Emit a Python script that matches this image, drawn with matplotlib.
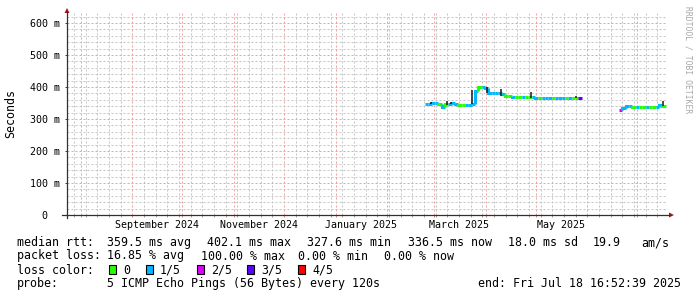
import matplotlib
matplotlib.use('Agg')
import matplotlib.pyplot as plt
import matplotlib.dates as mdates
import matplotlib.ticker as mticker
import matplotlib.transforms as mtransforms
from matplotlib.lines import Line2D
from matplotlib.patches import Polygon, Rectangle
from matplotlib.collections import LineCollection
import pandas as pd

# ---------------- data ----------------
time_start = '2024-07-23 16:52:39'
time_end = '2025-07-18 16:52:39'

y_tick_values = [0, 100, 200, 300, 400, 500, 600]
y_tick_labels = ['0  ', '100 m', '200 m', '300 m', '400 m', '500 m', '600 m']
x_label_dates = ['2024-09-16', '2024-11-16', '2025-01-16', '2025-03-16', '2025-05-16']
x_labels = ['September 2024', 'November 2024', 'January 2025', 'March 2025', 'May 2025']

step_days = 2
seg1_start = '2025-02-23 12:00'
seg1_median = [347, 346, 350, 349, 348, 338, 346, 348, 350, 346, 345, 345,
               345, 345, 346, 388, 399, 399, 398, 381, 380, 380, 380, 378,
               372, 371, 370, 370, 370, 370, 370, 370, 370, 366, 366, 366,
               366, 367, 366, 366, 366, 367, 366, 366, 366, 366, 367]
seg1_loss = [1, 1, 1, 1, 0, 1, 0, 1, 1, 1, 0, 0,
             1, 1, 1, 1, 0, 1, 1, 1, 1, 1, 1, 1,
             0, 0, 1, 0, 0, 1, 0, 0, 1, 1, 0, 1,
             1, 1, 0, 1, 1, 1, 0, 1, 0, 0, 3]

seg2_start = '2025-06-19 21:00'
seg2_median = [327, 333, 340, 339, 337, 336, 337, 336, 336, 336, 336, 336, 345, 339]
seg2_loss = [2, 1, 1, 1, 0, 1, 0, 0, 1, 0, 0, 1, 1, 0]

smoke_dates = ['2025-02-27 00:00', '2025-03-09 00:00', '2025-03-11 00:00', '2025-03-23 14:00',
               '2025-04-01 22:00', '2025-04-10 00:00', '2025-04-28 00:00',
               '2025-05-25 00:00', '2025-07-16 12:00']
smoke_low = [346, 345, 346, 346, 381, 372, 366, 365, 339]
smoke_high = [354, 355, 353, 390, 399, 394, 384, 373, 355]

loss_labels = ['0', '1/5', '2/5', '3/5', '4/5']
loss_colors = ['#26ff00', '#00b8ff', '#dd00ff', '#5e00ff', '#ff0000']

stats_rtt = ['median rtt:', '359.5 ms avg', '402.1 ms max', '327.6 ms min',
             '336.5 ms now', '18.0 ms sd', '19.9', 'am/s']
stats_loss = ['packet loss:', '16.85 % avg', '100.00 % max', '0.00 % min', '0.00 % now']
probe_text = ['probe:', '5 ICMP Echo Pings (56 Bytes) every 120s']
end_text = 'end: Fri Jul 18 16:52:39 2025'
y_axis_label = 'Seconds'
watermark = 'RRDTOOL / TOBI OETIKER'
loss_title = 'loss color:'

# ---------------- layout ----------------
W, H, DPI = 697, 297, 100
MONO = 'DejaVu Sans Mono'
AX_FS = 7.2
LG_FS = 8.4

def fx(px):
    return px / W

def fy(py):
    return 1 - py / H

fig = plt.figure(figsize=(W / DPI, H / DPI), dpi=DPI, facecolor='white')
plot_left, plot_right, plot_top, plot_bottom = 67, 667, 13, 215
ax = fig.add_axes([fx(plot_left), fy(plot_bottom),
                   (plot_right - plot_left) / W, (plot_bottom - plot_top) / H])
ax.set_facecolor('white')
for s in ax.spines.values():
    s.set_visible(False)

t0 = mdates.date2num(pd.Timestamp(time_start))
t1 = mdates.date2num(pd.Timestamp(time_end))
ax.set_xlim(t0, t1)
ax.set_ylim(0, 631)

# grid
ax.xaxis.set_major_locator(mdates.MonthLocator())
ax.xaxis.set_minor_locator(mdates.WeekdayLocator(byweekday=mdates.SU))
ax.xaxis.set_major_formatter(mticker.NullFormatter())
ax.xaxis.set_minor_formatter(mticker.NullFormatter())
ax.yaxis.set_minor_locator(mticker.MultipleLocator(20))
ax.set_yticks(y_tick_values)
ax.set_yticklabels(y_tick_labels, fontfamily=MONO, fontsize=AX_FS)
ax.set_axisbelow(True)
ax.grid(which='minor', color='#c4c4c4', linestyle=(0, (2, 2)), linewidth=0.72)
ax.grid(which='major', color='#eaa2a2', linestyle=(0, (2, 2)), linewidth=0.72)
ax.tick_params(axis='y', which='major', length=1.44, width=0.72, color='#404040', pad=3.6)
ax.tick_params(axis='y', which='minor', length=0)
ax.tick_params(axis='x', which='major', length=1.44, width=0.72, color='#c09090', direction='out')
ax.tick_params(axis='x', which='minor', length=1.44, width=0.72, color='#a0a0a0', direction='out')

# median line, colored by loss
def draw_segment(start, vals, loss):
    tstart = pd.Timestamp(start)
    segs, cols = [], []
    for i, (v, l) in enumerate(zip(vals, loss)):
        a = mdates.date2num(tstart + pd.Timedelta(days=step_days * i))
        b = mdates.date2num(tstart + pd.Timedelta(days=step_days * (i + 1)))
        prev = vals[i - 1] if i > 0 else v
        segs.append([(a, prev), (a, v), (b, v)])
        cols.append(loss_colors[l])
    lc = LineCollection(segs, colors=cols, linewidths=2.2, capstyle='butt', joinstyle='miter', zorder=3)
    ax.add_collection(lc)

draw_segment(seg1_start, seg1_median, seg1_loss)
draw_segment(seg2_start, seg2_median, seg2_loss)

smoke_x = [mdates.date2num(pd.Timestamp(d)) for d in smoke_dates]
ax.vlines(smoke_x, smoke_low, smoke_high, colors='#1a1a1a', linewidth=1.1, zorder=4)

# x labels
trans = mtransforms.blended_transform_factory(ax.transData, fig.transFigure)
for d, lab in zip(x_label_dates, x_labels):
    ax.text(mdates.date2num(pd.Timestamp(d)), fy(228), lab, transform=trans,
            ha='center', va='baseline', fontfamily=MONO, fontsize=AX_FS, color='black')

# axes lines with arrows
axis_col = '#303030'
arrow_col = '#a01818'
fig.add_artist(Line2D([fx(62), fx(670)], [fy(215), fy(215)], color=axis_col, lw=0.9))
fig.add_artist(Line2D([fx(67), fx(67)], [fy(218), fy(12)], color=axis_col, lw=0.9))
fig.add_artist(Polygon([[fx(669), fy(212.5)], [fx(674), fy(215)], [fx(669), fy(217.5)]],
                       closed=True, color=arrow_col, lw=0))
fig.add_artist(Polygon([[fx(64.5), fy(13)], [fx(67), fy(8)], [fx(69.5), fy(13)]],
                       closed=True, color=arrow_col, lw=0))

# y label and watermark
fig.text(fx(11), fy(114), y_axis_label, rotation=90, ha='center', va='center',
         fontfamily=MONO, fontsize=LG_FS)
fig.text(fx(688), fy(60), watermark, rotation=270, ha='center', va='center',
         fontfamily=MONO, fontsize=5.8, color='#a8a8a8')

# legend rows
rtt_x = [16.7, 107.3, 206.7, 306.7, 407.7, 507.7, 593, 641.7]
loss_x = [16.7, 107.3, 201, 298, 384]
row_y = [246, 259.5, 273.5, 287]
for x, t in zip(rtt_x, stats_rtt):
    fig.text(fx(x), fy(row_y[0]), t, ha='left', va='baseline', fontfamily=MONO, fontsize=LG_FS)
for x, t in zip(loss_x, stats_loss):
    fig.text(fx(x), fy(row_y[1]), t, ha='left', va='baseline', fontfamily=MONO, fontsize=LG_FS)
fig.text(fx(16.7), fy(row_y[2]), loss_title, ha='left', va='baseline', fontfamily=MONO, fontsize=LG_FS)
box_x = [109, 146, 196.7, 247.3, 298.3]
lab_x = [123.3, 160, 211, 261.7, 312.3]
for bx, lx, lab, col in zip(box_x, lab_x, loss_labels, loss_colors):
    fig.add_artist(Rectangle((fx(bx), fy(273.5)), 7 / W, 8.5 / H, facecolor=col,
                             edgecolor='black', lw=0.8))
    fig.text(fx(lx), fy(row_y[2]), lab, ha='left', va='baseline', fontfamily=MONO, fontsize=LG_FS)
fig.text(fx(16.7), fy(row_y[3]), probe_text[0], ha='left', va='baseline', fontfamily=MONO, fontsize=LG_FS)
fig.text(fx(107.3), fy(row_y[3]), probe_text[1], ha='left', va='baseline', fontfamily=MONO, fontsize=LG_FS)
fig.text(fx(681), fy(row_y[3]), end_text, ha='right', va='baseline', fontfamily=MONO, fontsize=LG_FS)

fig.savefig('out.png', dpi=DPI, facecolor='white')
